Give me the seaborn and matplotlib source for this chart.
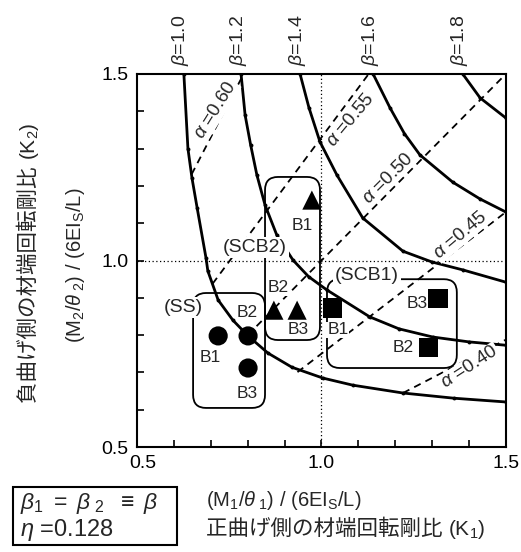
import numpy as np
import pandas as pd
import matplotlib
matplotlib.use("Agg")
import matplotlib.pyplot as plt
import seaborn as sns
from matplotlib.patches import FancyBboxPatch, Rectangle
from matplotlib.ticker import MultipleLocator
from matplotlib.transforms import ScaledTranslation, blended_transform_factory

# ---------------- data ----------------
beta_levels = ["1.0", "1.2", "1.4", "1.6", "1.8"]
b10_k1 = [0.627, 0.638, 0.649, 0.663, 0.687, 0.692, 0.720, 0.760, 0.801, 0.855, 0.920, 1.004, 1.085, 1.221, 1.360, 1.500]
b10_k2 = [1.500, 1.300, 1.221, 1.141, 1.007, 0.972, 0.894, 0.840, 0.798, 0.752, 0.714, 0.685, 0.666, 0.645, 0.631, 0.621]
b12_k1 = [0.782, 0.793, 0.808, 0.825, 0.847, 0.879, 0.923, 0.965, 1.015, 1.131, 1.210, 1.302, 1.400, 1.500]
b12_k2 = [1.500, 1.390, 1.310, 1.229, 1.149, 1.068, 1.001, 0.957, 0.921, 0.849, 0.817, 0.795, 0.782, 0.773]
b14_k1 = [0.942, 0.966, 0.996, 1.042, 1.112, 1.221, 1.300, 1.383, 1.500]
b14_k2 = [1.500, 1.410, 1.318, 1.229, 1.114, 1.025, 0.996, 0.975, 0.942]
b16_k1 = [1.140, 1.186, 1.225, 1.267, 1.356, 1.430, 1.500]
b16_k2 = [1.500, 1.409, 1.340, 1.283, 1.210, 1.165, 1.130]
b18_k1 = [1.383, 1.430, 1.500]
b18_k2 = [1.500, 1.436, 1.382]

alpha_levels = ["0.60", "0.55", "0.50", "0.45", "0.40"]
alpha_k1_start = [0.648, 0.705, 0.800, 0.935, 1.221]
alpha_k2_start = [1.231, 0.938, 0.800, 0.701, 0.645]
alpha_k1_end = [0.789, 1.128, 1.500, 1.500, 1.500]
alpha_k2_end = [1.500, 1.500, 1.500, 1.130, 0.788]

specimens = ["B1", "B2", "B3"]
ss_k1 = [0.720, 0.801, 0.801]
ss_k2 = [0.798, 0.798, 0.712]
scb2_k1 = [0.974, 0.871, 0.934]
scb2_k2 = [1.162, 0.867, 0.867]
scb1_k1 = [1.031, 1.291, 1.316]
scb1_k2 = [0.873, 0.768, 0.899]
groups = ["(SS)", "(SCB2)", "(SCB1)"]

tick_values = [0.5, 1.0, 1.5]
tick_labels = ["0.5", "1.0", "1.5"]

# ---------------- build tables ----------------
curves = [(b10_k1, b10_k2), (b12_k1, b12_k2), (b14_k1, b14_k2),
          (b16_k1, b16_k2), (b18_k1, b18_k2)]
beta_df = pd.concat([pd.DataFrame({"K1": k1, "K2": k2, "beta": lev})
                     for lev, (k1, k2) in zip(beta_levels, curves)], ignore_index=True)
alpha_df = pd.concat([pd.DataFrame({"K1": [a, c], "K2": [b, d], "alpha": lev})
                      for lev, a, b, c, d in zip(alpha_levels, alpha_k1_start, alpha_k2_start,
                                                 alpha_k1_end, alpha_k2_end)], ignore_index=True)
pts_df = pd.concat([
    pd.DataFrame({"K1": ss_k1, "K2": ss_k2, "group": groups[0], "spec": specimens}),
    pd.DataFrame({"K1": scb2_k1, "K2": scb2_k2, "group": groups[1], "spec": specimens}),
    pd.DataFrame({"K1": scb1_k1, "K2": scb1_k2, "group": groups[2], "spec": specimens}),
], ignore_index=True)

# ---------------- style ----------------
sns.set_theme(style="white")
plt.rcParams["font.family"] = ["Liberation Sans", "Noto Sans CJK JP", "DejaVu Sans"]
plt.rcParams["mathtext.fontset"] = "custom"
plt.rcParams["mathtext.rm"] = "Liberation Sans"
plt.rcParams["mathtext.it"] = "Liberation Sans:italic"
plt.rcParams["mathtext.bf"] = "Liberation Sans:bold"

W, H = 521.0, 552.0
fig = plt.figure(figsize=(5.21, 5.52), dpi=100)
ax = fig.add_axes([0.263, 0.190, 0.708, 0.676])

# reference dotted lines
ax.axvline(1.0, color="black", lw=0.9, ls=(0, (1, 2)), zorder=1)
ax.axhline(1.0, color="black", lw=0.9, ls=(0, (1, 2)), zorder=1)

# alpha dashed lines
sns.lineplot(data=alpha_df, x="K1", y="K2", units="alpha", estimator=None, sort=False,
             color="black", lw=1.3, ax=ax, legend=False, zorder=2)
for ln in ax.get_lines()[2:]:
    ln.set_dashes((4, 3))

# beta solid curves
sns.lineplot(data=beta_df, x="K1", y="K2", units="beta", estimator=None, sort=False,
             color="black", lw=2.0, marker="o", markersize=2.8, markeredgecolor="black",
             markeredgewidth=0, ax=ax, legend=False, zorder=3)

# rounded boxes
def rbox(x0, y0, x1, y1):
    p = FancyBboxPatch((x0, y0), x1 - x0, y1 - y0,
                       boxstyle="round,pad=0,rounding_size=0.035",
                       fc="none", ec="black", lw=1.3, zorder=4)
    ax.add_patch(p)

rbox(0.652, 0.605, 0.847, 0.913)
rbox(0.847, 0.787, 0.996, 1.224)
rbox(1.015, 0.712, 1.367, 0.950)

# specimen markers
sns.scatterplot(data=pts_df, x="K1", y="K2", style="group",
                markers={"(SS)": "o", "(SCB2)": "^", "(SCB1)": "s"},
                color="black", s=190, edgecolor="black", linewidth=0,
                ax=ax, legend=False, zorder=6)

# specimen labels (pixel offsets)
offs = {("(SS)", "B1"): (-8, -22), ("(SS)", "B2"): (-1, 23), ("(SS)", "B3"): (-1, -25),
        ("(SCB2)", "B1"): (-10, -25), ("(SCB2)", "B2"): (4, 23), ("(SCB2)", "B3"): (1, -19),
        ("(SCB1)", "B1"): (5, -22), ("(SCB1)", "B2"): (-26, 0), ("(SCB1)", "B3"): (-21, -5)}
bb = dict(boxstyle="square,pad=0.05", fc="white", ec="none")
for _, r in pts_df.iterrows():
    dx, dy = offs[(r["group"], r["spec"])]
    ax.annotate(r["spec"], (r["K1"], r["K2"]), xytext=(dx, dy), textcoords="offset pixels",
                ha="center", va="center", fontsize=12.5, bbox=bb, zorder=7)

grp_pos = {"(SS)": (0.625, 0.873), "(SCB2)": (0.820, 1.034), "(SCB1)": (1.123, 0.961)}
for g in groups:
    x, y = grp_pos[g]
    ax.text(x, y, g, ha="center", va="center", fontsize=14,
            bbox=dict(boxstyle="square,pad=0.1", fc="white", ec="none"), zorder=7)

# alpha labels
alpha_lab_pos = [(0.714, 1.403, 58), (1.080, 1.377, 50), (1.180, 1.221, 45),
                 (1.378, 1.068, 40), (1.402, 0.714, 33)]
for lev, (x, y, rot) in zip(alpha_levels, alpha_lab_pos):
    ax.text(x, y, r"$\alpha$ =" + lev, ha="center", va="center", rotation=rot,
            rotation_mode="anchor", fontsize=13.5,
            bbox=dict(boxstyle="square,pad=0.05", fc="white", ec="none"), zorder=5)

# beta labels above the axes
trans = blended_transform_factory(ax.transData, ax.transAxes)
for lev, k1 in zip(beta_levels, [c[0][0] for c in curves]):
    ax.text(k1 - 0.008, 1.022, r"$\beta$=" + lev, transform=trans, rotation=90,
            ha="center", va="bottom", fontsize=14)

# axes formatting
ax.set_xlim(0.5, 1.5)
ax.set_ylim(0.5, 1.5)
ax.set_xticks(tick_values)
ax.set_xticklabels(tick_labels)
ax.set_yticks(tick_values)
ax.set_yticklabels(tick_labels)
ax.xaxis.set_minor_locator(MultipleLocator(0.1))
ax.yaxis.set_minor_locator(MultipleLocator(0.1))
ax.tick_params(which="both", direction="in", length=5, width=1.2, bottom=True, left=True,
               top=False, right=False, labelsize=14, pad=6, colors="black")
ax.set_xlabel("")
ax.set_ylabel("")
for sp in ax.spines.values():
    sp.set_linewidth(1.5)
    sp.set_color("black")
    sp.set_visible(True)
lbl0 = ax.get_xticklabels()[0]
lbl0.set_transform(lbl0.get_transform() + ScaledTranslation(0.06, 0, fig.dpi_scale_trans))

renderer = fig.canvas.get_renderer()

# x axis titles
fig.text(206 / W, 1 - 506 / H, r"(M$_1$/$\theta_{\ 1}$) / (6EI$_\mathrm{S}$/L)",
         ha="left", va="baseline", fontsize=14.5)
tx = fig.text(206 / W, 1 - 535 / H, "正曲げ側の材端回転剛比 ",
              ha="left", va="baseline", fontsize=15.5)
ext = tx.get_window_extent(renderer)
fig.text(ext.x1 / fig.bbox.width, 1 - 535 / H, "(K$_1$)", ha="left", va="baseline", fontsize=15)

# y axis titles
ty = fig.text(35 / W, 1 - 403 / H, "負曲げ側の材端回転剛比 ", rotation=90,
              rotation_mode="anchor", ha="left", va="baseline", fontsize=15.5)
ext = ty.get_window_extent(renderer)
fig.text(35 / W, ext.y1 / fig.bbox.height, "(K$_2$)", rotation=90, rotation_mode="anchor",
         ha="left", va="baseline", fontsize=15)
fig.text(81 / W, 1 - 343 / H, r"(M$_2$/$\theta_{\ 2}$) / (6EI$_\mathrm{S}$/L)",
         rotation=90, rotation_mode="anchor", ha="left", va="baseline", fontsize=14.5)

# condition box
fig.patches.append(Rectangle((13 / W, 1 - 545 / H), 164 / W, 58 / H, transform=fig.transFigure,
                             fc="white", ec="black", lw=1.5))
fig.text(20 / W, 1 - 504 / H, r"$\beta_1\ =\ \beta_{\ 2}\ \ \equiv\ \beta$", ha="left",
         va="center", fontsize=16.5)
fig.text(20 / W, 1 - 530 / H, r"$\eta$ =0.128", ha="left", va="center", fontsize=17)

fig.savefig("out.png", dpi=100)
